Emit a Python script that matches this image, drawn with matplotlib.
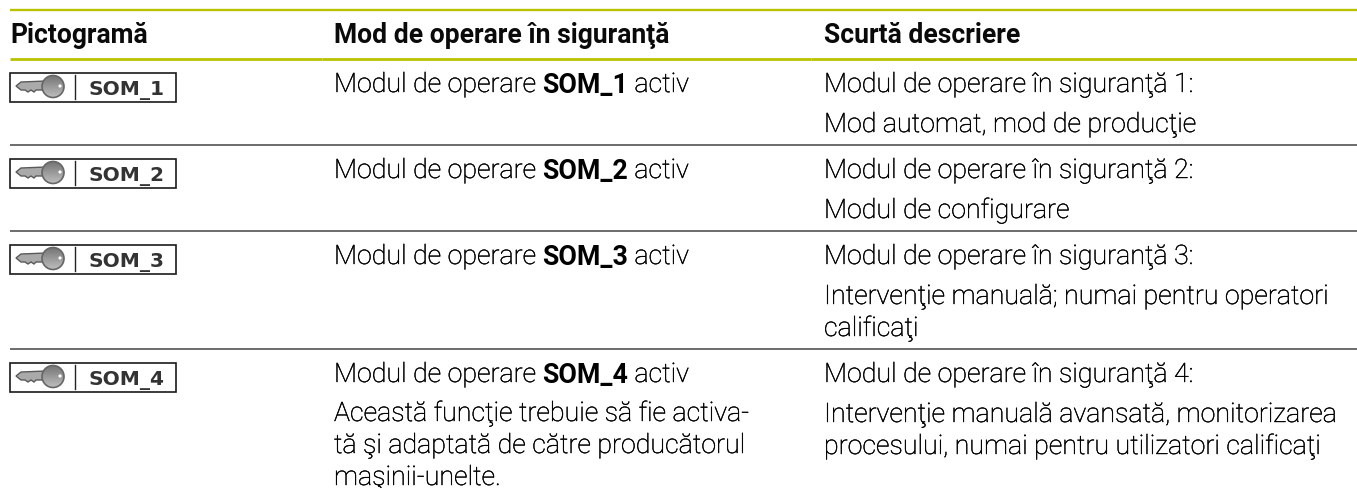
import numpy as np
import matplotlib
matplotlib.use('Agg')
import matplotlib.pyplot as plt
import matplotlib.patheffects as pe
from matplotlib.patches import Rectangle, Circle, Polygon

plt.rcParams['font.family'] = ['Roboto', 'DejaVu Sans']

headers = ['Pictogramă', 'Mod de operare în siguranţă', 'Scurtă descriere']
icon_labels = ['SOM_1', 'SOM_2', 'SOM_3', 'SOM_4']
modes = ['SOM_1', 'SOM_2', 'SOM_3', 'SOM_4']
mode_note = ['Această funcţie trebuie să fie activa-', 'tă şi adaptată de către producătorul', 'maşinii-unelte.']
descr = [
    ['Modul de operare în siguranţă 1:', 'Mod automat, mod de producţie'],
    ['Modul de operare în siguranţă 2:', 'Modul de configurare'],
    ['Modul de operare în siguranţă 3:', 'Intervenţie manuală; numai pentru operatori', 'calificaţi'],
    ['Modul de operare în siguranţă 4:', 'Intervenţie manuală avansată, monitorizarea', 'procesului, numai pentru utilizatori calificaţi'],
]

col_x = [10, 334, 824]
row_top = [60, 146, 232, 350]
body_size = 19.3
black = '#000000'
# the light face comes out too pale here, a hair of stroke brings it closer
thicker = [pe.withStroke(linewidth=0.3, foreground=black)]

fig = plt.figure(figsize=(13.57, 4.89), dpi=100)
ax = fig.add_axes([0, 0, 1, 1])
renderer = fig.canvas.get_renderer()

green = '#bac200'


def rule(y, color, lw):
    # each column has its own piece of line in the reference
    for a, b in [(10, 322), (322.3, 811), (811.3, 1357)]:
        ax.plot([a, b], [y, y], color=color, lw=lw, solid_capstyle='butt')


rule(11, green, 1.7)
rule(60, green, 2.0)
for y in row_top[1:]:
    rule(y, '#444444', 1.1)

for x, h in zip(col_x, headers):
    ax.text(x, 43, h, fontsize=19.1, fontweight='bold', va='baseline', color='#0a0a0a')

grad = np.linspace(0, 1, 32).reshape(-1, 1)


def draw_icon(y, label):
    ax.add_patch(Rectangle((9.5, y + 0.5), 166.5, 29, fc='white', ec='#1a1a1a', lw=1.2))
    shaft = Polygon([[16, y + 14], [21, y + 10], [46, y + 9], [46, y + 18], [36, y + 18], [34, y + 20],
                     [31, y + 18], [28, y + 20], [25, y + 18], [21, y + 18]],
                    fc='#aaaaaa', ec='#5a5a5a', lw=1.0)
    ax.add_patch(shaft)
    im = ax.imshow(grad, cmap='gray', vmin=-1.5, vmax=1.83, extent=(41, 65, y + 26, y + 3), aspect='auto', zorder=3)
    head = Circle((53, y + 14.5), 11, transform=ax.transData, fc='none', ec='#666666', lw=1.2, zorder=4)
    ax.add_patch(head)
    im.set_clip_path(head)
    ax.add_patch(Circle((60, y + 14), 1.6, fc='white', ec='none', zorder=5))
    ax.plot([75, 75], [y + 3, y + 27], color='#222222', lw=1)
    ax.text(88, y + 22, label, fontsize=14.5, fontweight='bold', family='DejaVu Sans',
            va='baseline', color='#333333')


for i, top in enumerate(row_top):
    draw_icon(top + 13, icon_labels[i])
    y = top + 33
    x = col_x[1]
    for part, weight in [('Modul de operare ', 'light'), (modes[i], 'bold'), (' activ', 'light')]:
        t = ax.text(x, y, part, fontsize=body_size, fontweight=weight, va='baseline', color=black)
        x += t.get_window_extent(renderer).width
        if weight == 'light':
            t.set_path_effects(thicker)
    for j, line in enumerate(descr[i]):
        ly = y if j == 0 else y + 40 + (j - 1) * 32
        ax.text(col_x[2], ly, line, fontsize=body_size, fontweight='light', va='baseline', color=black,
                path_effects=thicker)

for j, line in enumerate(mode_note):
    ax.text(col_x[1], row_top[3] + 72 + j * 32, line, fontsize=body_size, fontweight='light', va='baseline',
            color=black, path_effects=thicker)

ax.set_xlim(0, 1357)
ax.set_ylim(489, 0)
ax.axis('off')
fig.savefig('out.png', dpi=100)
